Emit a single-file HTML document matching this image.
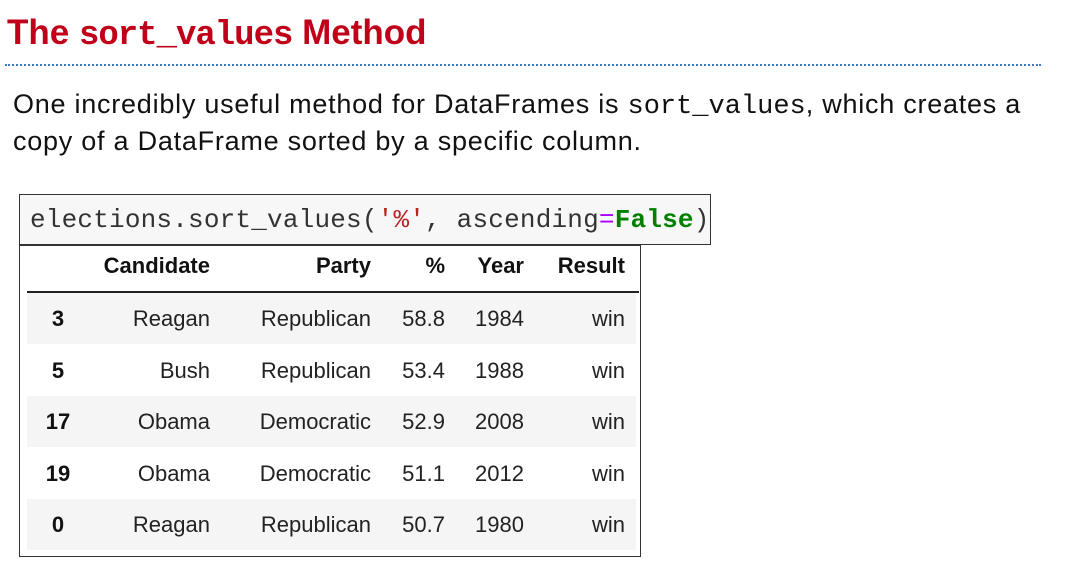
<!DOCTYPE html>
<html><head><meta charset="utf-8"><style>
body{margin:0;width:1065px;height:579px;background:#fff;position:relative;overflow:hidden;font-family:"Liberation Sans",sans-serif}
.a{position:absolute;white-space:nowrap}
#title{left:7px;top:13px;font-size:35px;font-weight:bold;color:#c00018;letter-spacing:0px}
#title code{font-family:"Liberation Mono",monospace;font-size:34px;letter-spacing:-1px}
#rule{left:5px;top:64px;width:1036px;border-top:2px dotted #3a7bc8}
.p{left:13px;font-size:27px;color:#111;letter-spacing:0.75px}
.p code{font-family:"Liberation Mono",monospace;font-size:27px;letter-spacing:0}
#code{left:19px;top:194px;width:692px;height:51px;border:1px solid #333;background:#f7f7f7;font-family:"Liberation Mono",monospace;font-size:26px;line-height:50px;padding-left:10px;box-sizing:border-box;color:#333;letter-spacing:0.2px}
#tbl{left:19px;top:245px;width:622px;height:312px;border:1px solid #333;box-sizing:border-box;background:#fff}
#hline{left:27px;top:291px;width:612px;border-top:2px solid #222}
.row{position:absolute;left:27px;width:609px;height:51px}
.c{position:absolute;font-size:22px;color:#222;text-align:right;transform:translateY(-50%)}
.b{font-weight:bold;color:#111}
</style></head><body>
<div class="a" id="title">The <code>sort_values</code> Method</div>
<div class="a" id="rule"></div>
<div class="a p" style="top:89px">One incredibly useful method for DataFrames is <code>sort_values</code>, which creates a</div>
<div class="a p" style="top:126px">copy of a DataFrame sorted by a specific column.</div>
<div class="a" id="code">elections.sort_values(<span style="color:#ba2121">'%'</span>, ascending<span style="color:#a0f">=</span><b style="color:#008000">False</b>)</div>
<div class="a" id="tbl"></div>
<div class="a" id="hline"></div>
<script>
const idx=["3","5","17","19","0"];
const cand=["Reagan","Bush","Obama","Obama","Reagan"];
const party=["Republican","Republican","Democratic","Democratic","Republican"];
const pct=["58.8","53.4","52.9","51.1","50.7"];
const year=["1984","1988","2008","2012","1980"];
const result=["win","win","win","win","win"];
const headers=["Candidate","Party","%","Year","Result"];
const rights=[210,371,445,524,625];
const root=document.body;
function cell(txt,right,cy,bold,center){
  const d=document.createElement('div');
  d.className='c'+(bold?' b':'');
  d.textContent=txt;
  if(center){d.style.left=(center-40)+'px';d.style.width='80px';d.style.textAlign='center';}
  else{d.style.right=(1065-right)+'px';}
  d.style.top=cy+'px';
  
  
  root.appendChild(d);
}
headers.forEach((h,i)=>cell(h,rights[i],266,true));
for(let r=0;r<idx.length;r++){
  const top=293+r*51.5;
  if(r%2==0){const s=document.createElement('div');s.className='row';s.style.top=top+'px';s.style.background='#f5f5f5';
  
  
  root.appendChild(s);}
  const cy=top+26;
  cell(idx[r],0,cy,true,58);
  [cand[r],party[r],pct[r],year[r],result[r]].forEach((t,i)=>cell(t,rights[i],cy,false));
}
</script>
</body></html>
